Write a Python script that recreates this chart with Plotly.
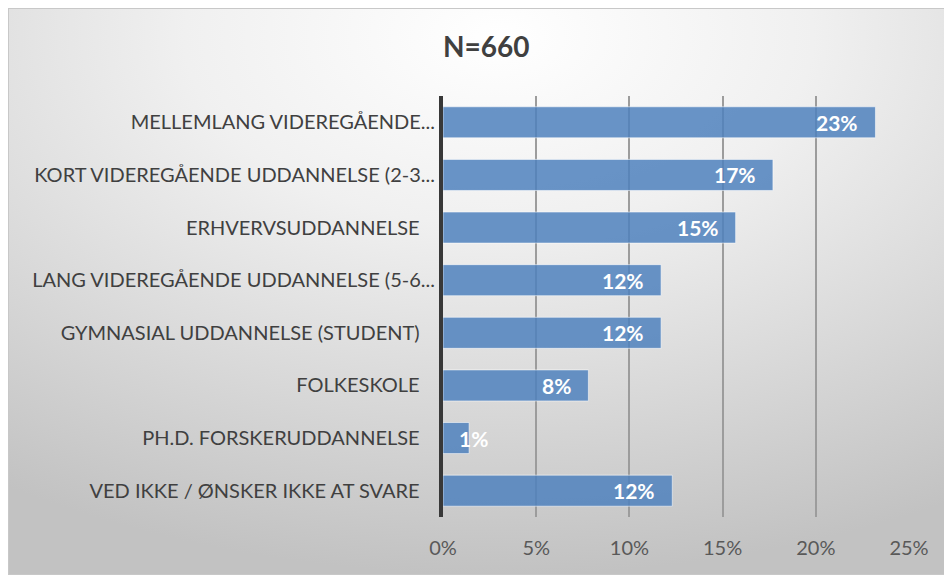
import base64
import plotly.graph_objects as go

# ---- data ----
categories = [
    "MELLEMLANG VIDEREGÅENDE...",
    "KORT VIDEREGÅENDE UDDANNELSE (2-3...",
    "ERHVERVSUDDANNELSE",
    "LANG VIDEREGÅENDE UDDANNELSE (5-6...",
    "GYMNASIAL UDDANNELSE (STUDENT)",
    "FOLKESKOLE",
    "PH.D. FORSKERUDDANNELSE",
    "VED IKKE / ØNSKER IKKE AT SVARE",
]
values = [0.232, 0.177, 0.157, 0.117, 0.117, 0.078, 0.014, 0.123]
value_labels = ["23%", "17%", "15%", "12%", "12%", "8%", "1%", "12%"]
x_tickvals = [0, 0.05, 0.10, 0.15, 0.20, 0.25]
x_ticktext = ["0%", "5%", "10%", "15%", "20%", "25%"]
title_text = "N=660"

# ---- layout geometry (pixels, relative to the figure which the page offsets by 8px) ----
OFF = 8
W, H = 952 - OFF, 575 - OFF
L, R, T, B = 443 - OFF, 909 - OFF, 96 - OFF, 517 - OFF
pw, ph = R - L, B - T

FONT = "Lato, 'Open Sans', sans-serif"

svg = f"""<svg xmlns='http://www.w3.org/2000/svg' width='{W}' height='{H}' viewBox='0 0 {W} {H}' preserveAspectRatio='none'>
<defs><radialGradient id='g' cx='0.52' cy='0.05' r='0.95' fx='0.52' fy='0.05'>
<stop offset='0' stop-color='#ffffff'/><stop offset='0.35' stop-color='#f0f0f0'/><stop offset='1' stop-color='#c2c2c2'/></radialGradient></defs>
<rect x='0' y='0' width='{W}' height='{H}' fill='url(#g)'/>
<rect x='0.5' y='0.5' width='{W-1}' height='{H-1}' fill='none' stroke='#c8c8c8' stroke-width='1'/>
</svg>"""
bg_uri = "data:image/svg+xml;base64," + base64.b64encode(svg.encode("utf-8")).decode()

# tick text: non-truncated labels sit a bit further from the axis
ticktext = [c if c.endswith("...") else c + "\u00a0\u00a0\u00a0" for c in categories]

fig = go.Figure()
fig.add_trace(go.Bar(
    x=values,
    y=categories,
    orientation="h",
    marker=dict(color="rgba(79,129,189,0.85)",
                line=dict(color="rgba(255,255,255,0.55)", width=1)),
    hoverinfo="skip",
))

annotations = []
for c, v, t in zip(categories, values, value_labels):
    small = v < 0.03
    annotations.append(dict(
        x=v, y=c, xref="x", yref="y", text=f"<b>{t}</b>",
        showarrow=False,
        xanchor="center" if small else "right",
        xshift=4 if small else -15,
        font=dict(family=FONT, size=21, color="white"),
    ))
annotations.append(dict(
    x=(486 - OFF - L) / pw, y=(B - (46 - OFF)) / ph, xref="paper", yref="paper",
    text=f"<b>{title_text}</b>", showarrow=False,
    xanchor="center", yanchor="middle",
    font=dict(family=FONT, size=28, color="#404040"),
))

fig.update_layout(
    width=W, height=H,
    margin=dict(l=L, r=W - R, t=T, b=H - B, pad=0, autoexpand=False),
    paper_bgcolor="white",
    plot_bgcolor="rgba(0,0,0,0)",
    showlegend=False,
    bargap=0.41,
    annotations=annotations,
    images=[dict(
        source=bg_uri, xref="paper", yref="paper",
        x=-L / pw, y=B / ph, sizex=W / pw, sizey=H / ph,
        xanchor="left", yanchor="top", sizing="stretch", layer="below",
    )],
    xaxis=dict(
        range=[0, 0.25], automargin=False,
        tickvals=x_tickvals, ticktext=x_ticktext,
        showgrid=True, gridcolor="#9c9c9c", gridwidth=1.6,
        zeroline=False, showline=False, ticks="",
        tickfont=dict(family=FONT, size=20, color="#595959"),
        ticklabelstandoff=17,
        fixedrange=True,
    ),
    yaxis=dict(
        categoryorder="array", categoryarray=categories[::-1],
        tickvals=categories, ticktext=ticktext, automargin=False,
        showgrid=False, zeroline=False,
        showline=True, linecolor="#383838", linewidth=4,
        ticks="", ticklabelstandoff=0,
        tickfont=dict(family=FONT, size=20, color="#404040"),
        fixedrange=True,
    ),
)

fig.write_html("out.html")
